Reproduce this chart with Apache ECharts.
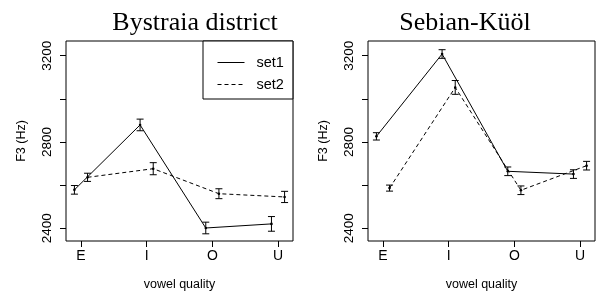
<!DOCTYPE html>
<html>
<head>
<meta charset="utf-8">
<script src="https://cdn.jsdelivr.net/npm/echarts@6/dist/echarts.min.js"></script>
<style>html,body{margin:0;padding:0;background:#fff;}#c{width:597px;height:296px;}</style>
</head>
<body>
<div id="c"></div>
<script>
// ---- data ----
const categories = ['E', 'I', 'O', 'U'];
const panelTitles = ['Bystraia district', 'Sebian-Küöl'];
const seriesNames = ['set1', 'set2'];
const bystraiaSet1 = [2578, 2879, 2401, 2420];
const bystraiaSet1Err = [20, 27, 27, 34];
const bystraiaSet2 = [2636, 2676, 2560, 2545];
const bystraiaSet2Err = [19, 28, 23, 26];
const sebianSet1 = [2826, 3208, 2664, 2651];
const sebianSet1Err = [17, 20, 20, 20];
const sebianSet2 = [2586, 3053, 2576, 2690];
const sebianSet2Err = [14, 32, 20, 20];
const yTicks = [2400, 2600, 2800, 3000, 3200];
const yTickLabels = [2400, 2800, 3200];
const yLimits = [2375, 3234];
const xLabel = 'vowel quality';
const yLabel = 'F3 (Hz)';

// ---- build ----
const FONT = '"Liberation Sans", Arial, sans-serif';
const SERIF = '"Liberation Serif", "Times New Roman", serif';
const OFFSET = 0.1;
const xMinData = 1 - OFFSET, xMaxData = categories.length + OFFSET;
const xPad = (xMaxData - xMinData) * 0.04;
const yPad = (yLimits[1] - yLimits[0]) * 0.04;

const panels = [
  { s1: bystraiaSet1, e1: bystraiaSet1Err, s2: bystraiaSet2, e2: bystraiaSet2Err, left: 66, titleX: 195 },
  { s1: sebianSet1, e1: sebianSet1Err, s2: sebianSet2, e2: sebianSet2Err, left: 368, titleX: 465 }
];

const grids = [], xAxes = [], yAxes = [], series = [], graphics = [];
panels.forEach((p, k) => {
  grids.push({ left: p.left, top: 41, width: 227, height: 204, show: true, borderColor: '#000', borderWidth: 1, backgroundColor: 'transparent' });
  xAxes.push({
    type: 'value', gridIndex: k, min: xMinData - xPad, max: xMaxData + xPad,
    axisLine: { show: false },
    splitLine: { show: false },
    axisTick: { show: true, inside: false, length: 6, customValues: categories.map((c, i) => i + 1), lineStyle: { color: '#000' } },
    axisLabel: { show: true, customValues: categories.map((c, i) => i + 1), formatter: v => categories[Math.round(v) - 1] || '', margin: 8, color: '#000', fontSize: 14, fontFamily: FONT },
    name: xLabel, nameLocation: 'middle', nameGap: 37,
    nameTextStyle: { color: '#000', fontSize: 12.5, fontFamily: FONT }
  });
  yAxes.push({
    type: 'value', gridIndex: k, min: yLimits[0] - yPad, max: yLimits[1] + yPad,
    axisLine: { show: false },
    splitLine: { show: false },
    axisTick: { show: true, inside: false, length: 6, customValues: yTicks, lineStyle: { color: '#000' } },
    axisLabel: { show: true, customValues: yTickLabels, formatter: v => String(v), rotate: 90, margin: 12, color: '#000', fontSize: 13.5, fontFamily: FONT },
    name: yLabel, nameLocation: 'middle', nameGap: 38, nameRotate: 90,
    nameTextStyle: { color: '#000', fontSize: 12.5, fontFamily: FONT }
  });
  [[p.s1, p.e1, -OFFSET, 'solid', seriesNames[0]], [p.s2, p.e2, OFFSET, 'dashed', seriesNames[1]]].forEach(([vals, errs, off, ltype, nm]) => {
    const pts = vals.map((v, i) => [i + 1 + off, v]);
    series.push({
      name: nm, type: 'line', xAxisIndex: k, yAxisIndex: k, data: pts,
      symbol: 'none', silent: true, animation: false,
      lineStyle: { color: '#000', width: 1, type: ltype === 'dashed' ? [4, 3] : 'solid' },
      itemStyle: { color: '#000' }
    });
    series.push({
      name: nm + ' err', type: 'custom', xAxisIndex: k, yAxisIndex: k, animation: false, silent: true,
      data: vals.map((v, i) => [i + 1 + off, v, errs[i]]),
      renderItem: (params, api) => {
        const x = api.value(0), y = api.value(1), e = api.value(2);
        const pt = api.coord([x, y]);
        const top = api.coord([x, y + e]);
        const bot = api.coord([x, y - e]);
        const cw = 3.5;
        const st = { stroke: '#000', lineWidth: 1 };
        return {
          type: 'group', children: [
            { type: 'line', shape: { x1: pt[0], y1: top[1], x2: pt[0], y2: bot[1] }, style: st },
            { type: 'line', shape: { x1: pt[0] - cw, y1: top[1], x2: pt[0] + cw, y2: top[1] }, style: st },
            { type: 'line', shape: { x1: pt[0] - cw, y1: bot[1], x2: pt[0] + cw, y2: bot[1] }, style: st },
            { type: 'circle', shape: { cx: pt[0], cy: pt[1], r: 1.3 }, style: { fill: '#000' } }
          ]
        };
      }
    });
  });
  graphics.push({
    type: 'text', x: p.titleX, y: 23,
    style: { text: panelTitles[k], fill: '#000', font: '26px ' + SERIF, align: 'center', verticalAlign: 'middle', textAlign: 'center', textVerticalAlign: 'middle' }
  });
});

const chart = echarts.init(document.getElementById('c'), null, { renderer: 'canvas' });
chart.setOption({
  animation: false,
  backgroundColor: '#fff',
  grid: grids,
  xAxis: xAxes,
  yAxis: yAxes,
  legend: {
    data: seriesNames.map(n => ({ name: n })),
    left: 203, top: 41, orient: 'vertical',
    padding: [14, 9, 7, 14], itemGap: 7, itemWidth: 27, itemHeight: 13,
    backgroundColor: '#fff', borderColor: '#000', borderWidth: 1, borderRadius: 0,
    selectedMode: false,
    itemStyle: { opacity: 0 },
    lineStyle: { width: 1 },
    textStyle: { color: '#000', fontSize: 14.5, lineHeight: 13, fontFamily: FONT, padding: [0, 0, 0, 7] }
  },
  series: series,
  graphic: graphics
});
</script>
</body>
</html>
